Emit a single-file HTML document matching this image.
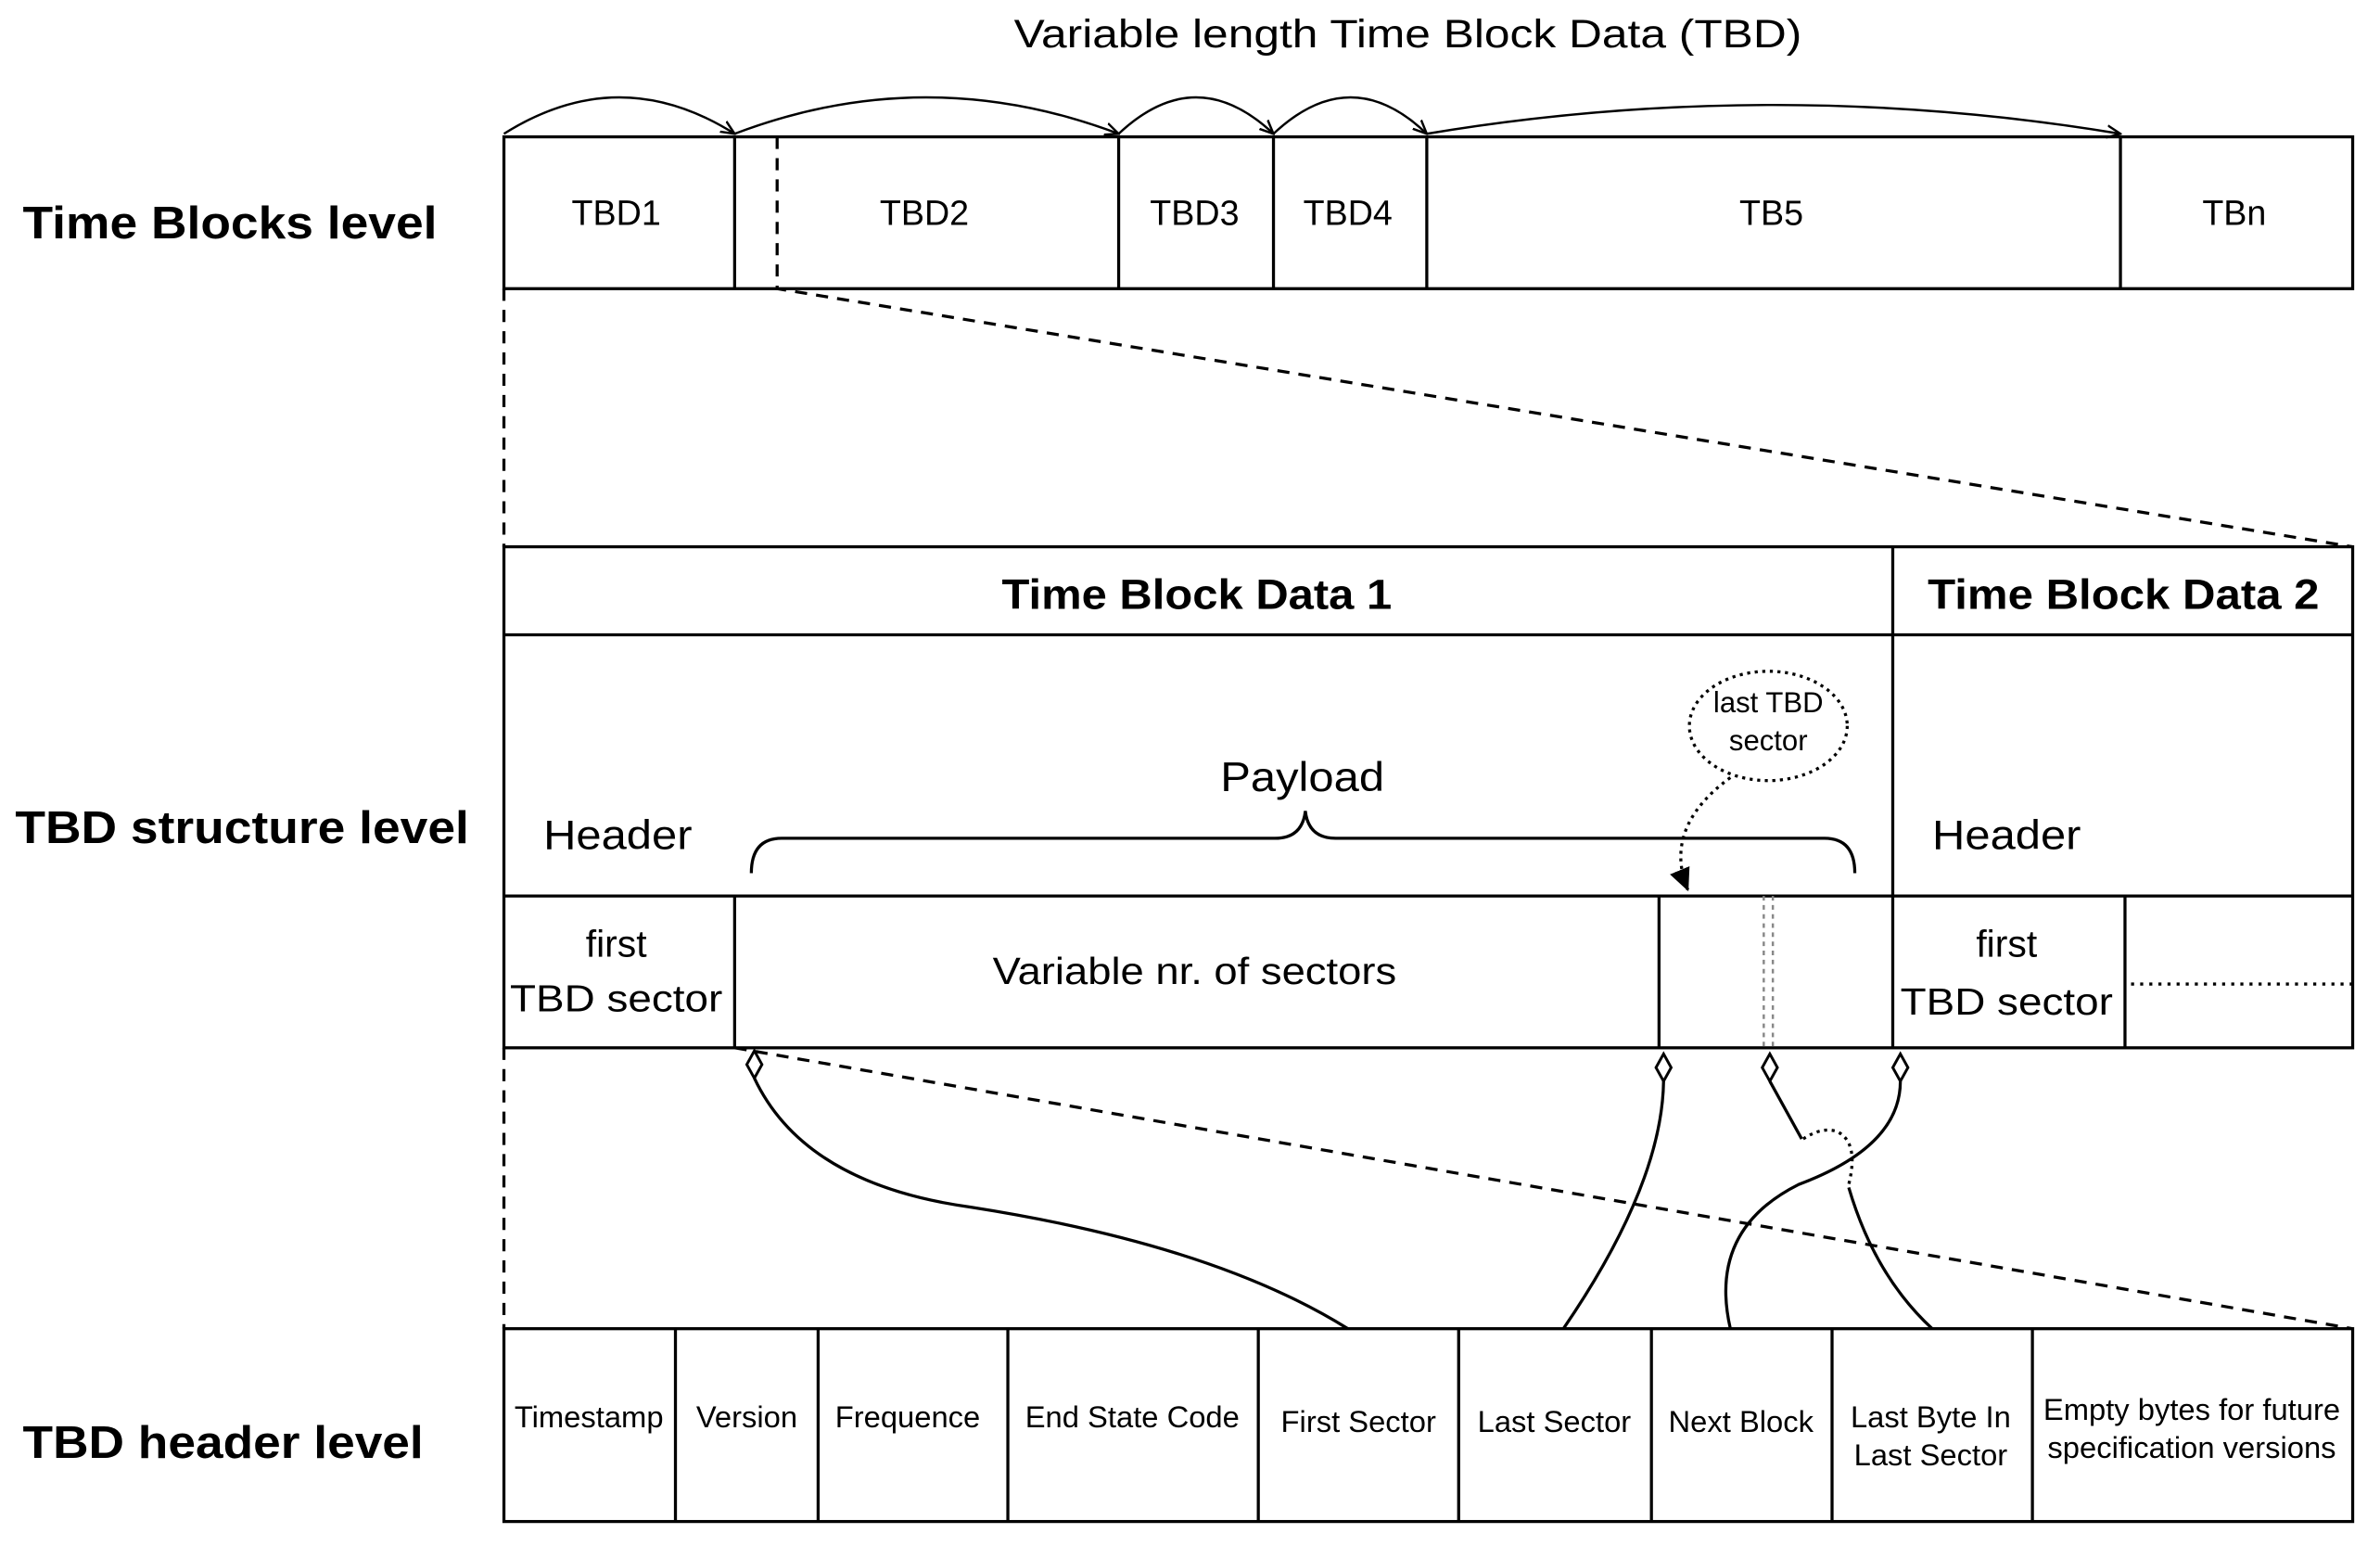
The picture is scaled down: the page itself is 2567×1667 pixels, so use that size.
<!DOCTYPE html>
<html><head><meta charset="utf-8"><style>
html,body{margin:0;padding:0;background:#fff;}
svg{display:block;}
text{font-family:"Liberation Sans",Arial,sans-serif;fill:#000;}
</style></head><body>
<svg width="2567" height="1667" viewBox="0 0 1568 1018" xmlns="http://www.w3.org/2000/svg">
<defs>
<marker id="ar" markerWidth="10" markerHeight="10" refX="9" refY="5" orient="auto" markerUnits="userSpaceOnUse">
<path d="M0,1 L9,5 L0,9" fill="none" stroke="#000" stroke-width="1.5"/></marker>
<marker id="af" markerWidth="16" markerHeight="16" refX="14" refY="8" orient="auto" markerUnits="userSpaceOnUse">
<path d="M0,1 L15,8 L0,15 Z" fill="#000"/></marker>
</defs>
<text x="668" y="31" font-size="26" textLength="519" lengthAdjust="spacingAndGlyphs">Variable length Time Block Data (TBD)</text>
<g font-weight="bold" font-size="30">
<text x="15" y="157" textLength="273" lengthAdjust="spacingAndGlyphs">Time Blocks level</text>
<text x="10" y="555" textLength="299" lengthAdjust="spacingAndGlyphs">TBD structure level</text>
<text x="15" y="960" textLength="264" lengthAdjust="spacingAndGlyphs">TBD header level</text>
</g>
<g fill="none" stroke="#000" stroke-width="2">
<rect x="332" y="90" width="1218" height="100"/>
<path d="M484 90V190M737 90V190M839 90V190M940 90V190M1397 90V190"/>
</g>
<g fill="none" stroke="#000" stroke-width="1.5">
<path d="M332 88 Q408 40 484 88" marker-end="url(#ar)"/>
<path d="M484 88 Q610 40 737 88" marker-end="url(#ar)"/>
<path d="M737 88 Q788 40 839 88" marker-end="url(#ar)"/>
<path d="M839 88 Q890 40 940 88" marker-end="url(#ar)"/>
<path d="M940 88 Q1168 50 1397 88" marker-end="url(#ar)"/>
</g>
<g font-size="23" text-anchor="middle">
<text x="406" y="148">TBD1</text><text x="609" y="148">TBD2</text><text x="787" y="148">TBD3</text>
<text x="888" y="148">TBD4</text><text x="1167" y="148">TB5</text><text x="1472" y="148">TBn</text>
</g>
<g fill="none" stroke="#000" stroke-width="2" stroke-dasharray="8,6">
<path d="M512 90V190 L1550 360"/>
<path d="M332 190V360"/>
<path d="M332 690V875"/>
<path d="M484 690L1550 875"/>
</g>
<g fill="none" stroke="#000" stroke-width="2">
<rect x="332" y="360" width="1218" height="330"/>
<path d="M332 418H1550M332 590H1550M1247 360V690M484 590V690M1093 590V690M1400 590V690"/>
</g>
<path d="M1404 648H1550" stroke="#000" stroke-width="2" stroke-dasharray="2,4"/>
<path d="M1162 590V690M1168 590V690" stroke="#888" stroke-width="1.5" stroke-dasharray="3,3"/>
<g font-weight="bold" font-size="28">
<text x="660" y="401" textLength="257" lengthAdjust="spacingAndGlyphs">Time Block Data 1</text>
<text x="1270" y="401" textLength="258" lengthAdjust="spacingAndGlyphs">Time Block Data 2</text>
</g>
<g font-size="27">
<text x="358" y="559" textLength="98" lengthAdjust="spacingAndGlyphs">Header</text>
<text x="1273" y="559" textLength="98" lengthAdjust="spacingAndGlyphs">Header</text>
<text x="804" y="521" textLength="108" lengthAdjust="spacingAndGlyphs">Payload</text>
</g>
<path d="M495 575 Q495 552 515 552 H840 Q858 552 860 534 Q862 552 880 552 H1202 Q1222 552 1222 575" fill="none" stroke="#000" stroke-width="2"/>
<ellipse cx="1165" cy="478" rx="52" ry="36" fill="none" stroke="#000" stroke-width="2" stroke-dasharray="2,3"/>
<g font-size="19" text-anchor="middle"><text x="1165" y="469">last TBD</text><text x="1165" y="494">sector</text></g>
<path d="M1140 512 Q1095 545 1112 586" fill="none" stroke="#000" stroke-width="2" stroke-dasharray="2,3" marker-end="url(#af)"/>
<g font-size="25" text-anchor="middle">
<text x="406" y="630">first</text><text x="406" y="666" textLength="140" lengthAdjust="spacingAndGlyphs">TBD sector</text>
<text x="1322" y="630">first</text><text x="1322" y="668" textLength="140" lengthAdjust="spacingAndGlyphs">TBD sector</text>
<text x="787" y="648" textLength="266" lengthAdjust="spacingAndGlyphs">Variable nr. of sectors</text>
</g>
<g fill="none" stroke="#000" stroke-width="2">
<rect x="332" y="875" width="1218" height="127"/>
<path d="M445 875V1002M539 875V1002M664 875V1002M829 875V1002M961 875V1002M1088 875V1002M1207 875V1002M1339 875V1002"/>
</g>
<g font-size="20" text-anchor="middle">
<text x="388" y="940">Timestamp</text><text x="492" y="940">Version</text><text x="598" y="940">Frequence</text>
<text x="746" y="940">End State Code</text><text x="895" y="943">First Sector</text><text x="1024" y="943">Last Sector</text>
<text x="1147" y="943">Next Block</text><text x="1272" y="940">Last Byte In</text><text x="1272" y="965">Last Sector</text>
<text x="1444" y="935">Empty bytes for future</text><text x="1444" y="960">specification versions</text>
</g>
<g fill="#fff" stroke="#000" stroke-width="1.8">
<path d="M497 692 L502 701 L497 710 L492 701 Z"/>
<path d="M1096 694 L1101 703 L1096 712 L1091 703 Z"/>
<path d="M1166 694 L1171 703 L1166 712 L1161 703 Z"/>
<path d="M1252 694 L1257 703 L1252 712 L1247 703 Z"/>
</g>
<g fill="none" stroke="#000" stroke-width="2">
<path d="M497 710 Q530 780 640 795 Q800 820 888 875"/>
<path d="M1096 712 Q1095 780 1030 875"/>
<path d="M1166 712 L1187 750"/>
<path d="M1188 750 Q1200 742 1210 745 Q1225 752 1218 780" stroke-dasharray="2,3"/>
<path d="M1218 782 Q1235 840 1273 875"/>
<path d="M1252 712 Q1252 755 1185 780 Q1125 810 1140 875"/>
</g>
</svg>
</body></html>
